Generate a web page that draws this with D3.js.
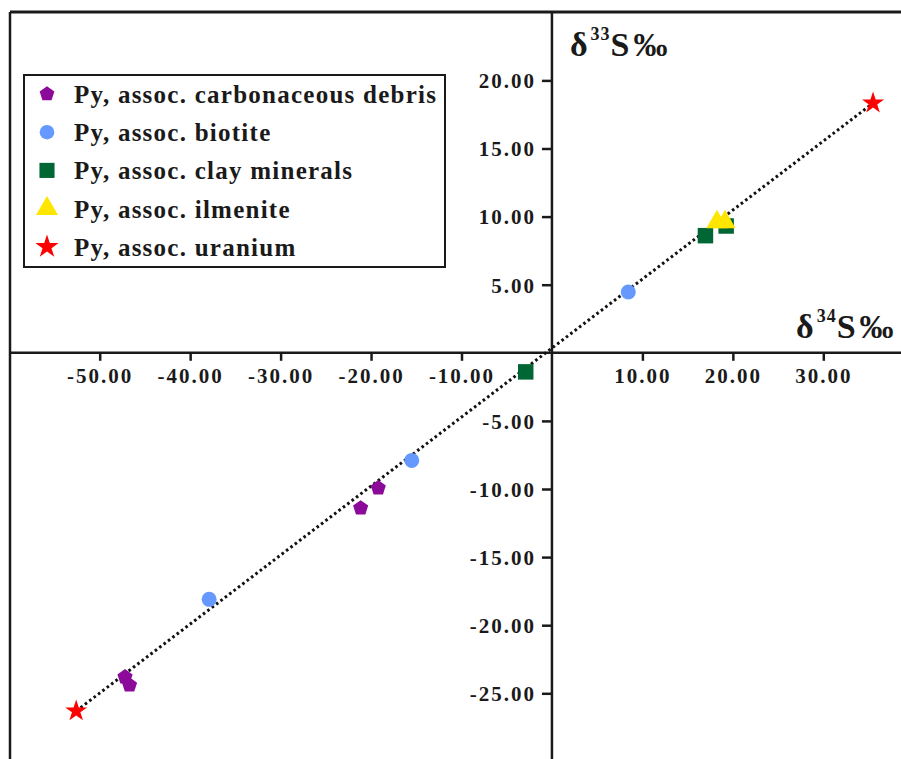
<!DOCTYPE html>
<html><head><meta charset="utf-8">
<script src="https://cdn.jsdelivr.net/npm/d3@7"></script>
<style>
html,body{margin:0;padding:0;background:#fff;}
svg{display:block;}
text{font-family:"Liberation Serif","Times New Roman",serif;font-weight:bold;fill:#1a1a1a;}
</style></head>
<body>
<svg id="chart" width="901" height="759"></svg>
<script>
// ---- data ----
const seriesNames = ["Py, assoc. carbonaceous debris","Py, assoc. biotite","Py, assoc. clay minerals","Py, assoc. ilmenite","Py, assoc. uranium"];
const seriesColors = ["#8b0a99","#6699ff","#006633","#ffe600","#ff0000"];
const carbonX = [-19.2, -21.15, -47.2, -46.7];
const carbonY = [-9.93, -11.4, -23.8, -24.4];
const biotiteX = [-15.5, -37.9, 8.44];
const biotiteY = [-7.9, -18.1, 4.46];
const clayX = [-2.9, 16.97, 19.26];
const clayY = [-1.4, 8.6, 9.31];
const ilmeniteX = [18.24, 19.13];
const ilmeniteY = [9.6, 9.6];
const uraniumX = [-52.6, 35.5];
const uraniumY = [-26.3, 18.33];
const trendX = [-52.6, 35.5];
const trendY = [-26.3, 18.33];
const xTicks = [-50,-40,-30,-20,-10,10,20,30];
const yTicks = [-25,-20,-15,-10,-5,5,10,15,20];

// ---- setup ----
const svg = d3.select("#chart");
const W = 901, H = 759;
const x = d3.scaleLinear().domain([-50,30]).range([99.7,823.3]);
const y = d3.scaleLinear().domain([-25,20]).range([693.3,80.4]);
const frameLeft = 10, frameTop = 12;
const ink = "#1a1a1a";

// frame
svg.append("line").attr("x1",frameLeft).attr("x2",W).attr("y1",frameTop).attr("y2",frameTop)
  .attr("stroke",ink).attr("stroke-width",3);
svg.append("line").attr("x1",frameLeft).attr("x2",frameLeft).attr("y1",frameTop).attr("y2",H)
  .attr("stroke",ink).attr("stroke-width",2.5);

// axes lines
svg.append("line").attr("x1",frameLeft).attr("x2",W).attr("y1",y(0)).attr("y2",y(0))
  .attr("stroke",ink).attr("stroke-width",2.5);
svg.append("line").attr("x1",x(0)).attr("x2",x(0)).attr("y1",frameTop).attr("y2",H)
  .attr("stroke",ink).attr("stroke-width",2.5);

const f2 = d3.format(".2f");
const fmt = d => f2(d).replace("\u2212","-");
const gx = svg.append("g").attr("transform",`translate(0,${y(0)})`)
  .call(d3.axisBottom(x).tickValues(xTicks).tickFormat(fmt).tickSize(8));
gx.select(".domain").remove();
gx.selectAll(".tick line").attr("stroke",ink).attr("stroke-width",2.5);
gx.selectAll(".tick text").attr("y",30).attr("dy",0)
  .style("font-size","21px").style("letter-spacing","2px").attr("fill",ink)
  .style("font-family",'"Liberation Serif",serif').style("font-weight","bold");

const gy = svg.append("g").attr("transform",`translate(${x(0)},0)`)
  .call(d3.axisLeft(y).tickValues(yTicks).tickFormat(fmt).tickSize(10));
gy.select(".domain").remove();
gy.selectAll(".tick line").attr("stroke",ink).attr("stroke-width",2.5);
gy.selectAll(".tick text").attr("x",-16).attr("dy","0.35em")
  .style("font-size","21px").style("letter-spacing","2px").attr("fill",ink)
  .style("font-family",'"Liberation Serif",serif').style("font-weight","bold");

// axis titles
function axTitle(tx, ty, sup){
  const t = svg.append("text").attr("x",tx).attr("y",ty).style("font-size","34px");
  t.append("tspan").text("δ");
  t.append("tspan").attr("dx",3).attr("dy",-16).style("font-size","18px").style("letter-spacing","1px").text(sup);
  t.append("tspan").attr("dy",16).style("letter-spacing","4px").text("S‰");
}
axTitle(x(0)+18, 56, "33");
axTitle(796, 338, "34");

// trend line
svg.append("line")
  .attr("x1",x(trendX[0])).attr("y1",y(trendY[0]))
  .attr("x2",x(trendX[1])).attr("y2",y(trendY[1]))
  .attr("stroke","#111").attr("stroke-width",3).attr("stroke-dasharray","2.6 2.9");

// pentagon symbol
const symbolPentagon = {
  draw(ctx, size){
    const r = Math.sqrt(size/2.3776);
    for(let i=0;i<5;i++){
      const a = -Math.PI/2 + i*2*Math.PI/5;
      const px = r*Math.cos(a), py = r*Math.sin(a);
      if(i===0) ctx.moveTo(px,py); else ctx.lineTo(px,py);
    }
    ctx.closePath();
  }
};
const symTypes = [symbolPentagon, d3.symbolCircle, d3.symbolSquare, d3.symbolTriangle, d3.symbolStar];
const symSizes = [150, 177, 240, 195, 150];
const seriesX = [carbonX, biotiteX, clayX, ilmeniteX, uraniumX];
const seriesY = [carbonY, biotiteY, clayY, ilmeniteY, uraniumY];

seriesNames.forEach((name,i)=>{
  const pts = seriesX[i].map((v,j)=>[v, seriesY[i][j]]);
  svg.append("g").selectAll("path").data(pts).join("path")
    .attr("transform",d=>`translate(${x(d[0])},${y(d[1])})`)
    .attr("d",d3.symbol(symTypes[i], symSizes[i]))
    .attr("fill",seriesColors[i]);
});

// legend
const lg = svg.append("g");
lg.append("rect").attr("x",24).attr("y",75).attr("width",421).attr("height",192)
  .attr("fill","#fff").attr("stroke",ink).attr("stroke-width",2);
seriesNames.forEach((name,i)=>{
  const cy = 94 + i*38.2;
  lg.append("path").attr("transform",`translate(47,${cy})`)
    .attr("d",d3.symbol(symTypes[i], i===3?210:(i===4?170:symSizes[i]*0.95)))
    .attr("fill",seriesColors[i]);
  lg.append("text").attr("x",74).attr("y",cy+9).style("font-size","25px")
    .style("letter-spacing","1.25px").text(name);
});
</script>
</body></html>
